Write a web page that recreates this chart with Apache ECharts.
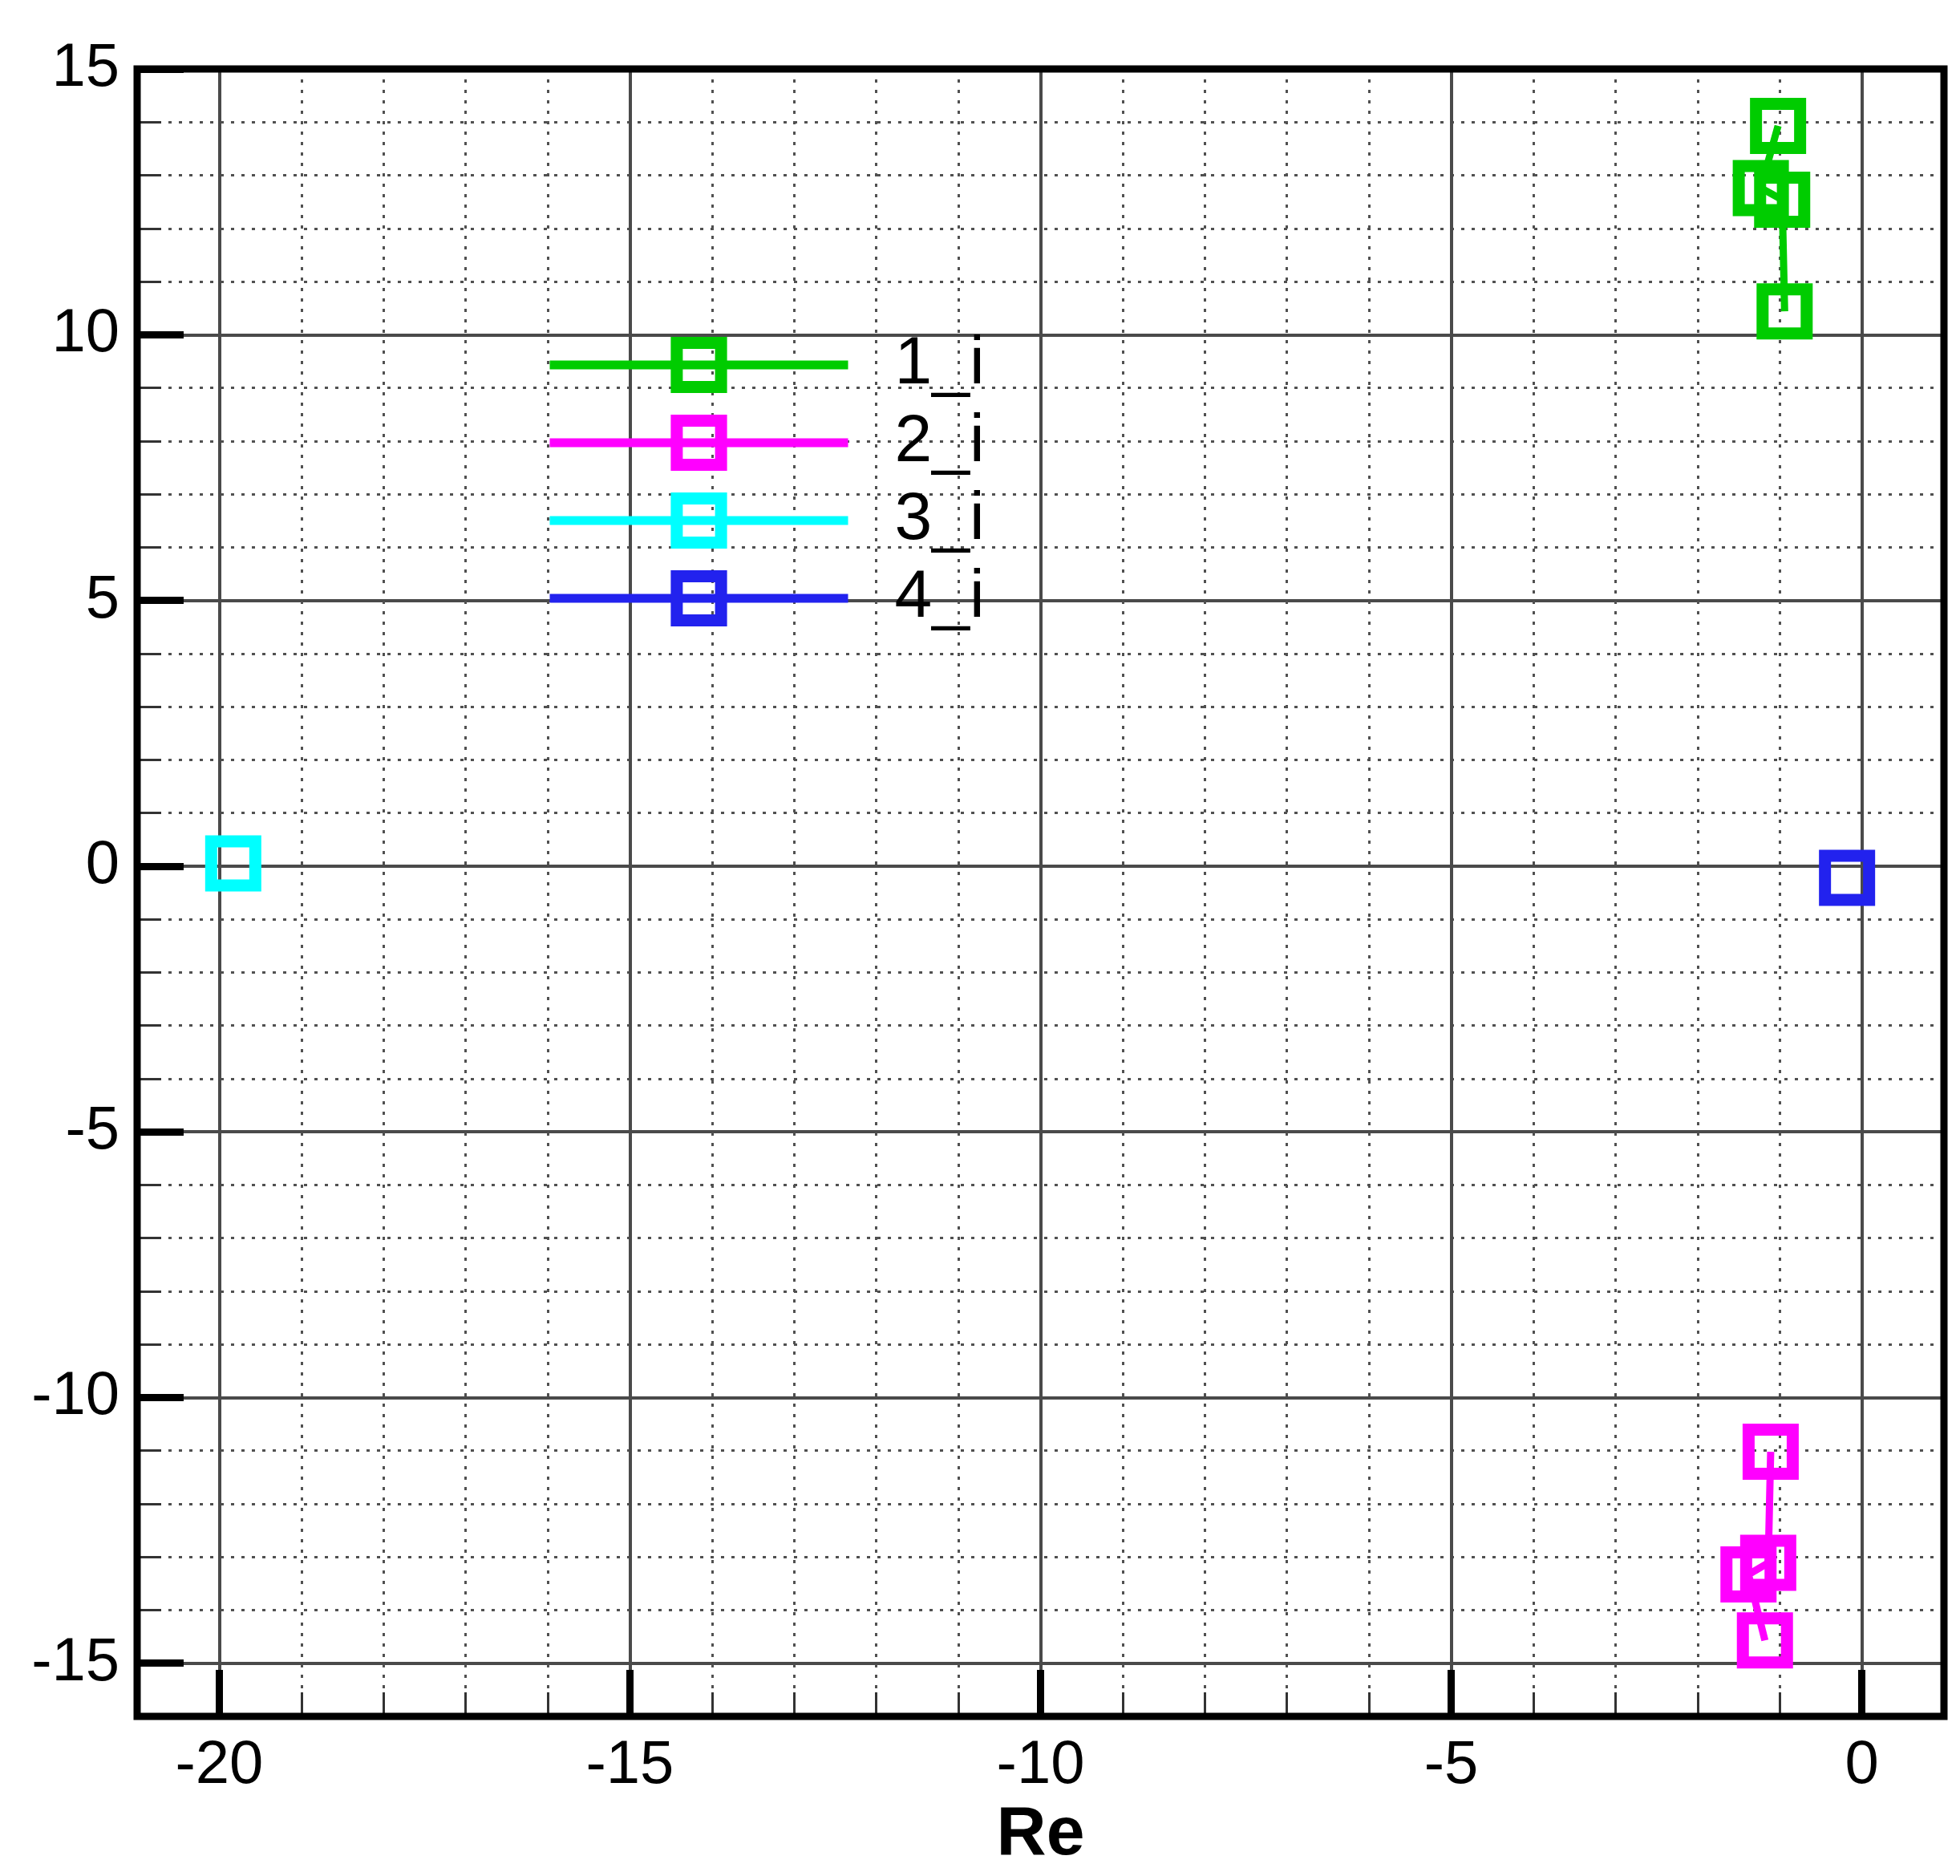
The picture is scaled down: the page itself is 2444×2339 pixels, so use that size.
<!DOCTYPE html>
<html>
<head>
<meta charset="utf-8">
<script src="https://cdn.jsdelivr.net/npm/echarts@6/dist/echarts.min.js"></script>
<style>
html,body{margin:0;padding:0;background:#fff;}
#chart{width:2444px;height:2339px;}
</style>
</head>
<body>
<div id="chart"></div>
<script>
// ---- data ----
var seriesNames = ['1_i', '2_i', '3_i', '4_i'];
var seriesColors = ['#00cc00', '#ff00ff', '#00ffff', '#2222ee'];
var s1x = [-1.02, -1.23, -0.97, -0.94];
var s1y = [13.93, 12.76, 12.54, 10.44];
var s2x = [-1.11, -1.14, -1.38, -1.18];
var s2y = [-11.02, -13.11, -13.33, -14.57];
var s3x = [-19.83];
var s3y = [0.05];
var s4x = [-0.18];
var s4y = [-0.22];
var xMajorTicks = [-20, -15, -10, -5, 0];
var yMajorTicks = [-15, -10, -5, 0, 5, 10, 15];
var xRange = [-21, 1];
var yRange = [-16, 15];

function pairs(xs, ys) { return xs.map(function (x, i) { return [x, ys[i]]; }); }
var allX = [s1x, s2x, s3x, s4x];
var allY = [s1y, s2y, s3y, s4y];

var FONT = 'Liberation Sans, Arial, sans-serif';
var minorGrid = { show: true, lineStyle: { color: '#505050', width: 3, type: [4, 9] } };
var majorGrid = { show: true, lineStyle: { color: '#4a4a4a', width: 4, type: 'solid' } };

var series = seriesNames.map(function (name, i) {
  return {
    name: name,
    type: 'line',
    xAxisIndex: 0,
    yAxisIndex: 0,
    data: pairs(allX[i], allY[i]),
    symbol: 'rect',
    symbolSize: 55,
    showSymbol: true,
    lineStyle: { color: seriesColors[i], width: 9 },
    itemStyle: { color: 'rgba(255,255,255,0)', borderColor: seriesColors[i], borderWidth: 15 },
    emphasis: { disabled: true },
    z: 5
  };
});

var option = {
  animation: false,
  backgroundColor: '#fff',
  grid: { left: 171, right: 20, top: 86, bottom: 199, show: true, borderColor: '#000', borderWidth: 9, backgroundColor: 'transparent', z: 10 },
  legend: {
    orient: 'vertical',
    left: 675,
    top: 408,
    itemWidth: 372,
    itemHeight: 69,
    itemGap: 13,
    selectedMode: false,
    lineStyle: { width: 11 },
    itemStyle: { borderWidth: 15 },
    textStyle: { fontFamily: FONT, fontSize: 84, color: '#000', padding: [0, 0, 0, 53] },
    data: seriesNames
  },
  xAxis: [
    {
      type: 'value', min: xRange[0], max: xRange[1], interval: 1, position: 'bottom',
      axisLine: { show: false, onZero: false },
      axisTick: { show: true, inside: true, length: 30, lineStyle: { color: '#333', width: 3 } },
      axisLabel: { show: false },
      splitLine: minorGrid
    },
    {
      type: 'value', min: xRange[0], max: xRange[1], position: 'bottom',
      axisLine: { show: false, onZero: false },
      axisTick: { show: true, inside: true, length: 58, customValues: xMajorTicks, lineStyle: { color: '#000', width: 9 } },
      axisLabel: { show: true, customValues: xMajorTicks, margin: 24, fontFamily: FONT, fontSize: 76, color: '#000' },
      splitLine: majorGrid,
      name: 'Re', nameLocation: 'middle', nameGap: 93,
      nameTextStyle: { fontFamily: FONT, fontSize: 86, fontWeight: 'bold', color: '#000' }
    }
  ],
  yAxis: [
    {
      type: 'value', min: yRange[0], max: yRange[1], interval: 1, position: 'left',
      axisLine: { show: false, onZero: false },
      axisTick: { show: true, inside: true, length: 30, lineStyle: { color: '#333', width: 3 } },
      axisLabel: { show: false },
      splitLine: minorGrid
    },
    {
      type: 'value', min: yRange[0], max: yRange[1], position: 'left',
      axisLine: { show: false, onZero: false },
      axisTick: { show: true, inside: true, length: 58, customValues: yMajorTicks, lineStyle: { color: '#000', width: 9 } },
      axisLabel: { show: true, customValues: yMajorTicks, margin: 22, fontFamily: FONT, fontSize: 76, color: '#000' },
      splitLine: majorGrid
    }
  ],
  series: series
};

var chart = echarts.init(document.getElementById('chart'), null, { renderer: 'canvas' });
chart.setOption(option);
</script>
</body>
</html>
